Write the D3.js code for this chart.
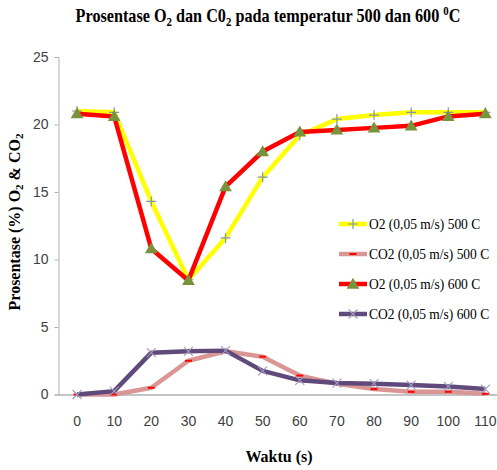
<!DOCTYPE html>
<html>
<head>
<meta charset="utf-8">
<script src="https://cdn.jsdelivr.net/npm/d3@7"></script>
<style>
  body { margin: 0; background: #fff; }
  svg { display: block; }
</style>
</head>
<body>
<div id="chart"></div>
<script>
const waktu = [0, 10, 20, 30, 40, 50, 60, 70, 80, 90, 100, 110];
const o2_500 = [21.0, 20.9, 14.3, 8.5, 11.6, 16.1, 19.2, 20.4, 20.7, 20.9, 20.9, 20.9];
const co2_500 = [0, 0, 0.5, 2.5, 3.2, 2.8, 1.4, 0.8, 0.4, 0.2, 0.2, 0.05];
const o2_600 = [20.8, 20.6, 10.8, 8.45, 15.4, 18.0, 19.45, 19.6, 19.75, 19.9, 20.6, 20.8];
const co2_600 = [0, 0.25, 3.1, 3.2, 3.25, 1.75, 1.05, 0.85, 0.8, 0.7, 0.6, 0.4];
const yTicks = [0, 5, 10, 15, 20, 25];

const series = [
  { name: "O2 (0,05 m/s) 500 C", values: o2_500, color: "#ffff00", marker: "plus" },
  { name: "CO2 (0,05 m/s) 500 C", values: co2_500, color: "#d99694", marker: "dash" },
  { name: "O2 (0,05 m/s) 600 C", values: o2_600, color: "#ff0000", marker: "triangle" },
  { name: "CO2 (0,05 m/s) 600 C", values: co2_600, color: "#604a7b", marker: "cross" }
];

const W = 497, H = 470;
const plotLeft = 58.5, plotTop = 57, plotBottom = 394.5;
const step = 37.12;

const svg = d3.select("#chart").append("svg")
    .attr("width", W)
    .attr("height", H);

const x = d3.scaleBand().domain(waktu).range([plotLeft, plotLeft + step * waktu.length]);
const y = d3.scaleLinear().domain([0, 25]).range([plotBottom, plotTop]);
const cx = d => x(d) + x.bandwidth() / 2;

// axes
const yAxis = svg.append("g")
    .attr("transform", `translate(${plotLeft},0)`)
    .call(d3.axisLeft(y).tickValues(yTicks).tickSize(4).tickPadding(6));
yAxis.select(".domain").attr("stroke", "#b0b0b0");
yAxis.selectAll(".tick line").attr("stroke", "#b0b0b0");
yAxis.selectAll("text")
    .attr("fill", "#404040")
    .style("font-family", "'Liberation Sans', sans-serif")
    .style("font-size", "14px");

const xAxis = svg.append("g")
    .attr("transform", `translate(0,${plotBottom})`)
    .call(d3.axisBottom(x).tickSize(0).tickPadding(22).tickSizeOuter(0));
xAxis.select(".domain").attr("stroke", "#b0b0b0").attr("stroke-width", 1.5);
xAxis.selectAll("text")
    .attr("fill", "#404040")
    .style("font-family", "'Liberation Sans', sans-serif")
    .style("font-size", "14px");

const line = d3.line()
    .x((d, i) => cx(waktu[i]))
    .y(d => y(d));

function drawMarker(g, type, px, py) {
  if (type === "plus") {
    g.append("path").attr("d", `M${px - 5},${py}H${px + 5}M${px},${py - 5}V${py + 5}`)
      .attr("stroke", "#8496b0").attr("stroke-width", 1.2);
  } else if (type === "dash") {
    g.append("path").attr("d", `M${px - 3.5},${py}H${px + 3.5}`)
      .attr("stroke", "#ff0000").attr("stroke-width", 2);
  } else if (type === "triangle") {
    g.append("path").attr("d", d3.symbol(d3.symbolTriangle, 70)())
      .attr("transform", `translate(${px},${py + 1})`)
      .attr("fill", "#77933c");
  } else if (type === "cross") {
    g.append("path").attr("d", `M${px - 4.5},${py - 4.5}L${px + 4.5},${py + 4.5}M${px - 4.5},${py + 4.5}L${px + 4.5},${py - 4.5}`)
      .attr("stroke", "#a29bc0").attr("stroke-width", 1.1);
  }
}

series.forEach(s => {
  const g = svg.append("g");
  g.append("path")
    .datum(s.values)
    .attr("d", line)
    .attr("fill", "none")
    .attr("stroke", s.color)
    .attr("stroke-width", 4.5)
    .attr("stroke-linejoin", "round");
  s.values.forEach((v, i) => drawMarker(g, s.marker, cx(waktu[i]), y(v)));
});

// squeeze a text horizontally (the reference uses condensed fonts)
function squeeze(sel, sx) {
  sel.attr("transform", `scale(${sx},1)`);
}

// legend
const legend = svg.append("g");
series.forEach((s, i) => {
  const ly = 224 + i * 30;
  const lg = legend.append("g");
  lg.append("line")
    .attr("x1", 339).attr("x2", 367)
    .attr("y1", ly).attr("y2", ly)
    .attr("stroke", s.color).attr("stroke-width", 4.5);
  drawMarker(lg, s.marker, 353, ly);
  lg.append("g")
    .attr("transform", `translate(369,${ly + 5})`)
    .append("text")
    .attr("transform", "scale(0.9,1)")
    .style("font-family", "'Liberation Serif', serif")
    .style("font-size", "15px")
    .text(s.name);
});

// title
const title = svg.append("g")
    .attr("transform", "translate(268,22)")
  .append("text")
    .attr("transform", "scale(0.9,1)")
    .attr("text-anchor", "middle")
    .style("font-family", "'Liberation Serif', serif")
    .style("font-weight", "bold")
    .style("font-size", "18px");
title.append("tspan").text("Prosentase O");
title.append("tspan").attr("dy", 4).style("font-size", "12px").text("2");
title.append("tspan").attr("dy", -4).text(" dan C0");
title.append("tspan").attr("dy", 4).style("font-size", "12px").text("2");
title.append("tspan").attr("dy", -4).text(" pada temperatur 500 dan 600 ");
title.append("tspan").attr("dy", -7).style("font-size", "12px").text("0");
title.append("tspan").attr("dy", 7).text("C");

// y label
const yl = svg.append("text")
    .attr("transform", "translate(20,222) rotate(-90)")
    .attr("text-anchor", "middle")
    .style("font-family", "'Liberation Serif', serif")
    .style("font-weight", "bold")
    .style("font-size", "16px");
yl.append("tspan").text("Prosentase (%) O");
yl.append("tspan").attr("dy", 3).style("font-size", "11px").text("2");
yl.append("tspan").attr("dy", -3).text(" & CO");
yl.append("tspan").attr("dy", 3).style("font-size", "11px").text("2");

// x label
svg.append("text")
    .attr("x", 279).attr("y", 462)
    .attr("text-anchor", "middle")
    .style("font-family", "'Liberation Serif', serif")
    .style("font-weight", "bold")
    .style("font-size", "16px")
    .text("Waktu (s)");
</script>
</body>
</html>
